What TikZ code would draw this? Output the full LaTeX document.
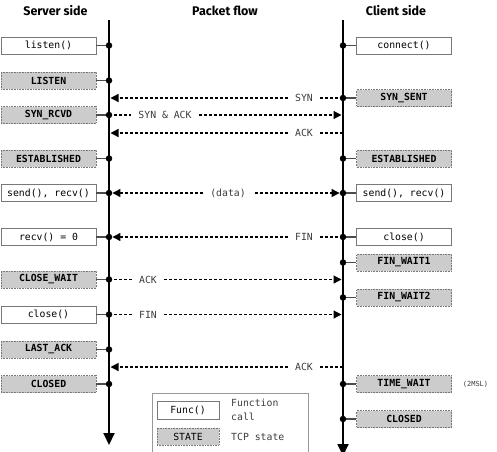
\documentclass[tikz,border=0pt]{standalone}
\usepackage{fontspec}
\setsansfont{Fira Sans}
\setmonofont{DejaVu Sans Mono}
\usetikzlibrary{arrows.meta}
\definecolor{stategray}{RGB}{204,204,204}
\definecolor{framegray}{RGB}{120,120,120}
\definecolor{labelgray}{RGB}{60,60,60}
\begin{document}
\begin{tikzpicture}[x=1pt,y=-1pt,
  box/.style={minimum width=95pt, minimum height=17pt, inner sep=0pt,
    font=\ttfamily\fontsize{9.8}{11}\selectfont},
  func/.style={box, draw=framegray, fill=white, line width=0.8pt},
  tcpstate/.style={box, draw=framegray, densely dotted, fill=stategray, line width=0.6pt,
    font=\ttfamily\bfseries\fontsize{9.8}{11}\selectfont},
  title/.style={font=\sffamily\bfseries\fontsize{12.5}{14}\selectfont},
  lifeline/.style={line width=1.8pt, -{Triangle[length=12pt,width=11pt]}},
  stem/.style={draw=black!70, line width=1.2pt},
  pkt/.style={line width=1.2pt, dash pattern=on 3pt off 2pt,
    -{Triangle[length=8pt,width=8pt]}},
  pktlabel/.style={fill=white, inner xsep=7pt, inner ysep=2pt, text=labelgray,
    font=\ttfamily\fontsize{9.8}{11}\selectfont},
  dot/.style={circle, fill=black, inner sep=0pt, minimum size=6.5pt},
  legendtext/.style={anchor=west, align=left, text=labelgray, inner sep=0pt,
    font=\ttfamily\fontsize{9.8}{14}\selectfont}
]
\useasboundingbox (0,0) rectangle (497,451);

% column headings
\node[title] (tServer) at (55.5,10.5) {Server side};
\node[title] (tFlow)   at (225,10.5) {Packet flow};
\node[title] (tClient) at (396,10.5) {Client side};

% lifelines
\coordinate (sTop) at (109,20);
\coordinate (sBot) at (109,445);
\coordinate (cTop) at (343,20);
\coordinate (cBot) at (343,456);
\draw[lifeline] (sTop) -- (sBot);
\draw[lifeline] (cTop) -- (cBot);

% server side boxes
\node[func]     (listen)     at (48.5,45.5)  {listen()};
\node[tcpstate] (sListen)    at (48.5,80.5)  {LISTEN};
\node[tcpstate] (sSynRcvd)   at (48.5,115)   {SYN\_RCVD};
\node[tcpstate] (sEstab)     at (48.5,158.5) {ESTABLISHED};
\node[func]     (sSendRecv)  at (48.5,193)   {send(), recv()};
\node[func]     (sRecvZero)  at (48.5,237)   {recv() = 0};
\node[tcpstate] (sCloseWait) at (48.5,279.5) {CLOSE\_WAIT};
\node[func]     (sClose)     at (48.5,314.5) {close()};
\node[tcpstate] (sLastAck)   at (48.5,349.5) {LAST\_ACK};
\node[tcpstate] (sClosed)    at (48.5,384)   {CLOSED};

% client side boxes
\node[func]     (connect)    at (404,45.5)   {connect()};
\node[tcpstate] (cSynSent)   at (404,98)     {SYN\_SENT};
\node[tcpstate] (cEstab)     at (404,158.5)  {ESTABLISHED};
\node[func]     (cSendRecv)  at (404,193)    {send(), recv()};
\node[func]     (cClose)     at (404,237)    {close()};
\node[tcpstate] (cFinWait1)  at (404,262.5)  {FIN\_WAIT1};
\node[tcpstate] (cFinWait2)  at (404,297.5)  {FIN\_WAIT2};
\node[tcpstate] (cTimeWait)  at (404,384)    {TIME\_WAIT};
\node[tcpstate] (cClosed)    at (404,419)    {CLOSED};
\node[font=\ttfamily\fontsize{7}{8}\selectfont, text=labelgray] (msl) at (475.5,384) {(2MSL)};

% event points on the server lifeline
\foreach \n/\y in {dListen/45.5, dSListen/80.5, dSynRcvd/115, dSEstab/158.5,
                   dSSend/193, dSRecvZero/237, dCloseWait/279.5, dSClose/314.5,
                   dLastAck/349.5, dSClosed/384}
  \coordinate (\n) at (109,\y);
% event points on the client lifeline
\foreach \n/\y in {dConnect/45.5, dSynSent/98, dCEstab/158.5, dCSend/193,
                   dCClose/237, dFinWait1/262.5, dFinWait2/297.5,
                   dTimeWait/384, dCClosed/419}
  \coordinate (\n) at (343,\y);

% stems from boxes to the lifelines
\foreach \b/\d in {listen/dListen, sListen/dSListen, sSynRcvd/dSynRcvd, sEstab/dSEstab,
                   sSendRecv/dSSend, sRecvZero/dSRecvZero, sCloseWait/dCloseWait,
                   sClose/dSClose, sLastAck/dLastAck, sClosed/dSClosed}
  \draw[stem] (\b.east) -- (\d);
\foreach \b/\d in {connect/dConnect, cSynSent/dSynSent, cEstab/dCEstab,
                   cSendRecv/dCSend, cClose/dCClose, cFinWait1/dFinWait1,
                   cFinWait2/dFinWait2, cTimeWait/dTimeWait, cClosed/dCClosed}
  \draw[stem] (\b.west) -- (\d);

% dots
\foreach \d in {dListen, dSListen, dSynRcvd, dSEstab, dSSend, dSRecvZero,
                dCloseWait, dSClose, dLastAck, dSClosed,
                dConnect, dSynSent, dCEstab, dCSend, dCClose, dFinWait1,
                dFinWait2, dTimeWait, dCClosed}
  \node[dot] (p\d) at (\d) {};

% arrival points of packets on the lifelines
\coordinate (aSyn)     at (110.5,98);
\coordinate (aSynAck)  at (341.5,115);
\coordinate (fAck1)    at (343,133);
\coordinate (aAck1)    at (110.5,133);
\coordinate (aAck2)    at (341.5,279.5);
\coordinate (aFin2)    at (341.5,314.5);
\coordinate (fAck3)    at (343,367);
\coordinate (aAck3)    at (110.5,367);

% packets
\draw[pkt] (pdSynSent.center) -- (aSyn);
\draw[pkt] (pdSynRcvd.center) -- (aSynAck);
\draw[pkt] (fAck1) -- (aAck1);
\draw[pkt, {Triangle[length=8pt,width=8pt]}-{Triangle[length=8pt,width=8pt]}]
  (pdSSend) -- (pdCSend);
\draw[pkt] (pdCClose.center) -- (pdSRecvZero);
\draw[pkt] (pdCloseWait.center) -- (aAck2);
\draw[pkt] (pdSClose.center) -- (aFin2);
\draw[pkt] (fAck3) -- (aAck3);

% packet labels
\node[pktlabel] (lSyn)    at (304,98)    {SYN};
\node[pktlabel] (lSynAck) at (165,115)   {SYN \& ACK};
\node[pktlabel] (lAck1)   at (304,133)   {ACK};
\node[pktlabel] (lData)   at (228,193)   {(data)};
\node[pktlabel] (lFin1)   at (304,237)   {FIN};
\node[pktlabel] (lAck2)   at (148,279.5) {ACK};
\node[pktlabel] (lFin2)   at (148,314.5) {FIN};
\node[pktlabel] (lAck3)   at (304,367)   {ACK};

% legend
\draw[draw=black!40, line width=0.8pt] (152,460) -- (152,393) -- (308,393) -- (308,460);
\node[func, minimum width=62pt, minimum height=18pt] (legFunc) at (188,410) {Func()};
\node[tcpstate, minimum width=62pt, minimum height=17pt, font=\ttfamily\fontsize{9.8}{11}\selectfont]
  (legState) at (188,436.5) {STATE};
\node[legendtext] (legFuncText)  at (231,410)   {Function\\call};
\node[legendtext] (legStateText) at (231,436.5) {TCP state};
\end{tikzpicture}
\end{document}
